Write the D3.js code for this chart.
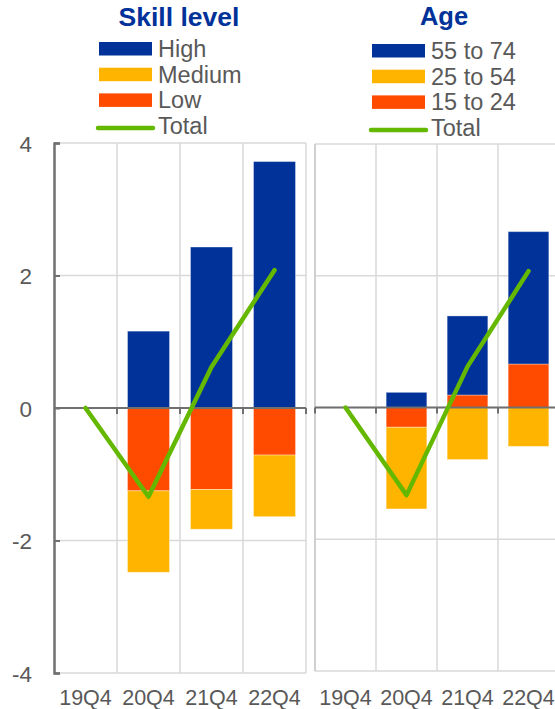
<!DOCTYPE html>
<html><head><meta charset="utf-8">
<script src="https://cdn.jsdelivr.net/npm/d3@7"></script>
<style>body{margin:0;background:#fff;}svg{display:block;font-family:"Liberation Sans",Arial,sans-serif;}</style>
</head><body>
<svg id="c" width="555" height="709"></svg>
<script>
const categories = ["19Q4","20Q4","21Q4","22Q4"];
const yTicks = [4,2,0,-2,-4];

// Skill level panel
const skillTitle = "Skill level";
const skillSeries = ["Low","Medium","High"];
const skillLegend = ["High","Medium","Low","Total"];
const skillHigh   = [0, 1.16, 2.43, 3.72];
const skillMedium = [0, -1.23, -0.60, -0.93];
const skillLow    = [0, -1.25, -1.23, -0.71];
const skillTotal  = [0, -1.34, 0.62, 2.08];

// Age panel
const ageTitle = "Age";
const ageSeries = ["15 to 24","25 to 54","55 to 74"];
const ageLegend = ["55 to 74","25 to 54","15 to 24","Total"];
const age5574 = [0, 0.23, 1.20, 2.01];
const age2554 = [0, -1.24, -0.79, -0.59];
const age1524 = [0, -0.30, 0.19, 0.66];
const ageTotal = [0, -1.33, 0.62, 2.07];

const colors = {High:"#003299",Medium:"#FFB400",Low:"#FF4B00",
  "55 to 74":"#003299","25 to 54":"#FFB400","15 to 24":"#FF4B00"};
const green = "#65B800";
const txt = "#595959";

const svg = d3.select("#c");

function panel(opt){
  const {x0,x1,yTop,yBot,series,values,total,showY,title,titleX,titleY,titleSize,legend,legX,legY} = opt;
  const x = d3.scaleBand().domain(categories).range([x0,x1]).paddingInner(1/3).paddingOuter(1/6);
  const xg = d3.scaleBand().domain(categories).range([x0,x1]);
  const y = d3.scaleLinear().domain([-4,4]).range([yBot,yTop]);
  const g = svg.append("g");

  // grid
  g.append("g").selectAll("line").data(yTicks).join("line")
    .attr("x1",x0).attr("x2",x1).attr("y1",d=>y(d)).attr("y2",d=>y(d))
    .attr("stroke","#d9d9d9").attr("stroke-width",1.5);
  g.append("g").selectAll("line").data(categories.slice(1).map(c=>xg(c)).concat([x1])).join("line")
    .attr("x1",d=>d).attr("x2",d=>d).attr("y1",yTop).attr("y2",yBot)
    .attr("stroke","#d9d9d9").attr("stroke-width",1.5);
  if(!showY){
    g.append("line").attr("x1",x0).attr("x2",x0).attr("y1",yTop).attr("y2",yBot)
      .attr("stroke","#d0d0d0").attr("stroke-width",2);
  }

  // bars
  const rows = categories.map((c,i)=>{const o={cat:c}; series.forEach((s,j)=>o[s]=values[j][i]); return o;});
  const stack = d3.stack().keys(series).offset(d3.stackOffsetDiverging)(rows);
  g.append("g").selectAll("g").data(stack).join("g").attr("fill",d=>colors[d.key])
    .selectAll("rect").data(d=>d).join("rect")
    .attr("x",d=>x(d.data.cat)).attr("width",x.bandwidth())
    .attr("y",d=>y(Math.max(d[0],d[1]))).attr("height",d=>Math.abs(y(d[0])-y(d[1])))
    .attr("stroke","#ffffff").attr("stroke-opacity",0.35).attr("stroke-width",1);

  // zero line + ticks
  g.append("line").attr("x1",x0).attr("x2",x1).attr("y1",y(0)).attr("y2",y(0))
    .attr("stroke","#707070").attr("stroke-width",2);
  const tks = [x0].concat(categories.slice(1).map(c=>xg(c))).concat([x1]);
  g.append("g").selectAll("line").data(showY?tks.slice(1):tks).join("line")
    .attr("x1",d=>d).attr("x2",d=>d).attr("y1",y(0)).attr("y2",y(0)+6)
    .attr("stroke","#707070").attr("stroke-width",2);

  // y axis
  if(showY){
    const ax = g.append("g").attr("transform",`translate(${x0},0)`)
      .call(d3.axisLeft(y).tickValues(yTicks).tickSize(-6).tickPadding(22).tickFormat(d=>d));
    ax.select(".domain").attr("stroke","#707070").attr("stroke-width",2.5);
    ax.selectAll(".tick line").attr("stroke","#707070").attr("stroke-width",2);
    ax.selectAll(".tick text").attr("fill",txt).attr("font-size",22.5)
      .attr("font-family","Liberation Sans, Arial, sans-serif").attr("dy","0.36em");
  }

  // x labels
  g.append("g").selectAll("text").data(categories).join("text")
    .attr("x",d=>xg(d)+xg.bandwidth()/2).attr("y",705)
    .attr("text-anchor","middle").attr("fill",txt).attr("font-size",21.5).text(d=>d);

  // total line
  const line = d3.line().x((d,i)=>xg(categories[i])+xg.bandwidth()/2).y(d=>y(d));
  g.append("path").datum(total).attr("d",line).attr("fill","none")
    .attr("stroke",green).attr("stroke-width",4.5).attr("stroke-linecap","round").attr("stroke-linejoin","round");

  // title
  svg.append("text").attr("x",titleX).attr("y",titleY).attr("text-anchor","middle")
    .attr("font-weight","bold").attr("font-size",titleSize).attr("fill","#003299").text(title);

  // legend
  const lg = svg.append("g");
  legend.forEach((k,i)=>{
    const yy = legY + i*25.7;
    if(k==="Total"){
      lg.append("line").attr("x1",legX-1).attr("x2",legX+54).attr("y1",yy-6).attr("y2",yy-6)
        .attr("stroke",green).attr("stroke-width",4.5).attr("stroke-linecap","round");
    } else {
      lg.append("rect").attr("x",legX).attr("y",yy-15).attr("width",53).attr("height",13.5).attr("fill",colors[k]);
    }
    lg.append("text").attr("x",legX+59).attr("y",yy).attr("fill",txt).attr("font-size",23.5).text(k);
  });
}

panel({x0:54,x1:306,yTop:143,yBot:673,series:skillSeries,
  values:[skillLow,skillMedium,skillHigh],total:skillTotal,showY:true,
  title:skillTitle,titleX:179,titleY:26,titleSize:26.5,legend:skillLegend,legX:99,legY:57});
panel({x0:315,x1:559,yTop:144,yBot:671,series:ageSeries,
  values:[age1524,age2554,age5574],total:ageTotal,showY:false,
  title:ageTitle,titleX:444,titleY:25,titleSize:25.5,legend:ageLegend,legX:372,legY:59});
</script>
</body></html>
